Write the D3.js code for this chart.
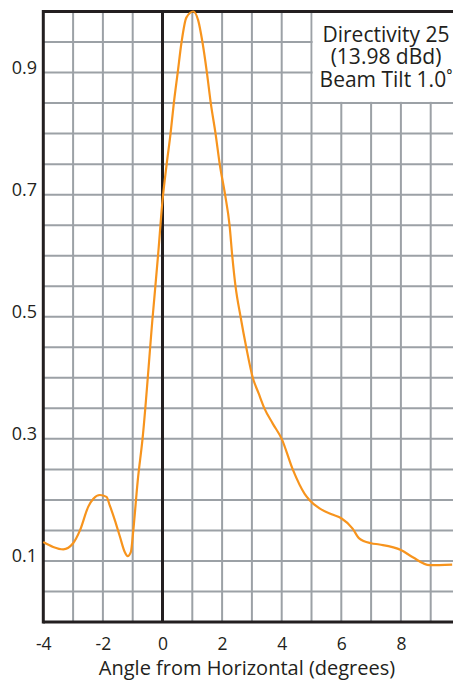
<!DOCTYPE html>
<head>
  <meta charset="utf-8">
  <script src="https://d3js.org/d3.v7.min.js"></script>
  <style>
    body { margin:0; background-color: white; }
    text { font-family: 'Open Sans', sans-serif; fill: #231f20; }
    .grid line { stroke: #9ca1a6; stroke-width: 2px; }
    .frame { stroke: #231f20; stroke-width: 3px; }
  </style>
</head>
<body>
  <svg id="chart" width="453" height="681"></svg>
  <script>
  // angle (degrees) and relative field value
  var angles = [-4, -3.67, -3.33, -3.0, -2.77, -2.49, -2.32, -2.1, -1.88, -1.77, -1.6, -1.43, -1.27, -1.17,
                -1.06, -0.98, -0.83, -0.67, -0.33, -0.15, 0, 0.14, 0.27, 0.38, 0.51, 0.64, 0.8, 1.03,
                1.2, 1.34, 1.49, 1.62, 1.78, 1.92, 2.1, 2.25, 2.34, 2.45, 2.62, 2.81, 3.03, 3.23, 3.42,
                3.7, 4.0, 4.37, 4.77, 4.93, 5.27, 5.7, 6.0, 6.38, 6.6, 7.0, 7.28, 8.0, 8.4, 8.96, 9.72];
  var values = [0.131, 0.123, 0.119, 0.129, 0.150, 0.189, 0.202, 0.208, 0.205, 0.191, 0.167, 0.140, 0.115, 0.108,
                0.115, 0.150, 0.232, 0.300, 0.500, 0.600, 0.690, 0.750, 0.800, 0.850, 0.900, 0.950, 0.990, 1.000,
                0.985, 0.950, 0.900, 0.850, 0.800, 0.750, 0.700, 0.650, 0.600, 0.550, 0.500, 0.450, 0.400, 0.374, 0.350,
                0.325, 0.300, 0.250, 0.210, 0.200, 0.186, 0.176, 0.170, 0.153, 0.137, 0.129, 0.127, 0.118, 0.106, 0.093, 0.094];

  var xTicks = [-4, -2, 0, 2, 4, 6, 8];
  var yTicks = [0.1, 0.3, 0.5, 0.7, 0.9];
  var xGridStep = 1, yGridStep = 0.05;
  var note = ["Directivity 25", "(13.98 dBd)", "Beam Tilt 1.0˚"];
  var xTitle = "Angle from Horizontal (degrees)";

  var svg = d3.select("#chart");
  var W = 453;

  var x = d3.scaleLinear().domain([-4, 0]).range([43.3, 162.5]);
  var y = d3.scaleLinear().domain([0, 1]).range([622, 11.5]);
  var xMax = x.invert(W + 5);

  // grid
  var grid = svg.append("g").attr("class", "grid");
  grid.selectAll(".v")
      .data(d3.range(-3, xMax, xGridStep).filter(function(d) { return d != 0; }))
    .enter().append("line")
      .attr("x1", function(d) { return x(d); })
      .attr("x2", function(d) { return x(d); })
      .attr("y1", y(0)).attr("y2", y(1));
  grid.selectAll(".h")
      .data(d3.range(1, 20).map(function(i) { return +(i * yGridStep).toFixed(2); }))
    .enter().append("line")
      .attr("x1", x(-4)).attr("x2", W + 5)
      .attr("y1", function(d) { return y(d); })
      .attr("y2", function(d) { return y(d); });

  // white box behind the note
  svg.append("rect")
      .attr("x", x(5) + 1.2)
      .attr("y", y(1))
      .attr("width", W - x(5))
      .attr("height", y(0.85) - y(1) - 1.2)
      .style("fill", "white");

  // frame and zero line
  svg.append("line").attr("class", "frame")
      .attr("x1", x(-4)).attr("x2", W + 5).attr("y1", y(1)).attr("y2", y(1));
  svg.append("line").attr("class", "frame")
      .attr("x1", x(-4)).attr("x2", W + 5).attr("y1", y(0)).attr("y2", y(0));
  svg.append("line").attr("class", "frame")
      .attr("x1", x(-4)).attr("x2", x(-4)).attr("y1", y(1) - 1.5).attr("y2", y(0) + 1.5);
  svg.append("line").attr("class", "frame")
      .attr("x1", x(0)).attr("x2", x(0)).attr("y1", y(1)).attr("y2", y(0));

  // curve
  var line = d3.line()
      .x(function(d) { return x(d[0]); })
      .y(function(d) { return y(d[1]); })
      .curve(d3.curveMonotoneX);
  svg.append("path")
      .datum(d3.zip(angles, values))
      .attr("d", line)
      .style("fill", "none")
      .style("stroke", "#f7941d")
      .style("stroke-width", "2.2px");

  // axes (labels only)
  var xAxis = svg.append("g")
      .attr("transform", "translate(0," + y(0) + ")")
      .call(d3.axisBottom(x).tickValues(xTicks).tickSize(0).tickPadding(0)
        .tickFormat(function(d) { return String(d); }));
  xAxis.select(".domain").remove();
  xAxis.selectAll("text")
      .attr("y", 28).attr("dy", null)
      .style("font-size", "17.5px").style("font-family", "'Open Sans', sans-serif").style("fill", "#231f20");

  var yAxis = svg.append("g")
      .attr("transform", "translate(37,0)")
      .call(d3.axisLeft(y).tickValues(yTicks).tickSize(0).tickPadding(0)
        .tickFormat(d3.format(".1f")));
  yAxis.select(".domain").remove();
  yAxis.selectAll("text")
      .attr("dy", null).attr("y", 1)
      .style("font-size", "18px").style("font-family", "'Open Sans', sans-serif").style("fill", "#231f20");

  svg.append("text")
      .attr("x", 247)
      .attr("y", 675)
      .style("text-anchor", "middle")
      .style("font-size", "20px")
      .text(xTitle);

  svg.selectAll(".note")
      .data(note)
    .enter().append("text")
      .attr("x", 386)
      .attr("y", function(d, i) { return 41.5 + i * 22.5; })
      .style("text-anchor", "middle")
      .style("font-size", "21px")
      .text(function(d) { return d; });
  </script>
</body>
